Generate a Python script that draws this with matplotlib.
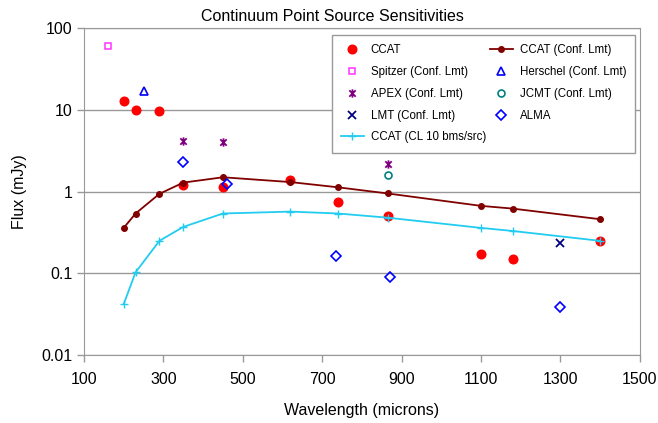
import numpy as np
import matplotlib
matplotlib.use("Agg")
import matplotlib.pyplot as plt
from matplotlib.path import Path

plt.rcParams['font.family'] = ['Liberation Sans', 'DejaVu Sans']

# DATA (wavelength in microns, flux in mJy)

ccat_wl = [200, 230, 290, 350, 450, 620, 740, 865, 1100, 1180, 1400]
ccat_flux = [12.9, 10.0, 9.8, 1.21, 1.15, 1.39, 0.75, 0.50, 0.174, 0.15, 0.25]

conf_wl = [200, 230, 290, 350, 450, 620, 740, 865, 1100, 1180, 1400]
conf_flux = [0.36, 0.54, 0.94, 1.29, 1.50, 1.31, 1.13, 0.95, 0.67, 0.62, 0.46]

cl10_wl = [200, 230, 290, 350, 450, 620, 740, 865, 1100, 1180, 1400]
cl10_flux = [0.042, 0.103, 0.25, 0.37, 0.54, 0.57, 0.54, 0.48, 0.36, 0.33, 0.25]

spitzer_wl = [160]
spitzer_flux = [61]
herschel_wl = [250]
herschel_flux = [17]
apex_wl = [350, 450, 865]
apex_flux = [4.2, 4.1, 2.16]
jcmt_wl = [865]
jcmt_flux = [1.61]
lmt_wl = [1300]
lmt_flux = [0.238]
alma_wl = [350, 460, 735, 870, 1300]
alma_flux = [2.31, 1.23, 0.162, 0.090, 0.039]

# asterisk marker like the excel one: x with a vertical bar
star = Path([(-1, -1), (1, 1), (-1, 1), (1, -1), (0, -1.3), (0, 1.3)],
            [Path.MOVETO, Path.LINETO, Path.MOVETO, Path.LINETO, Path.MOVETO, Path.LINETO])

# PLOT

fig = plt.figure(figsize=(6.58, 4.23), dpi=100)
ax = fig.add_axes([84 / 658, 1 - 355 / 423, 555.7 / 658, 326.7 / 423])

h_ccat, = ax.plot(ccat_wl, ccat_flux, 'o', color='#ff0000', ms=6.2, ls='none', label='CCAT')
h_spitzer, = ax.plot(spitzer_wl, spitzer_flux, 's', mfc='none', mec='#ff33ff', mew=1.1, ms=5, ls='none',
                     label='Spitzer (Conf. Lmt)')
h_apex, = ax.plot(apex_wl, apex_flux, marker=star, color='#800080', mew=1.3, ms=6, ls='none',
                  label='APEX (Conf. Lmt)')
h_lmt, = ax.plot(lmt_wl, lmt_flux, 'x', color='#000080', mew=1.3, ms=6, ls='none', label='LMT (Conf. Lmt)')
h_cl10, = ax.plot(cl10_wl, cl10_flux, '-', marker='+', color='#22ccf0', lw=1.3, ms=6, mew=1,
                  label='CCAT (CL 10 bms/src)')
h_conf, = ax.plot(conf_wl, conf_flux, '-', marker='o', color='#800000', lw=1.3, ms=4,
                  label='CCAT (Conf. Lmt)')
h_herschel, = ax.plot(herschel_wl, herschel_flux, '^', mfc='none', mec='#0000ff', mew=1.2, ms=5.5, ls='none',
                      label='Herschel (Conf. Lmt)')
h_jcmt, = ax.plot(jcmt_wl, jcmt_flux, 'o', mfc='none', mec='#008080', mew=1.2, ms=5, ls='none',
                  label='JCMT (Conf. Lmt)')
h_alma, = ax.plot(alma_wl, alma_flux, 'D', mfc='none', mec='#0000ff', mew=1.2, ms=5, ls='none', label='ALMA')

ax.set_yscale('log')
ax.set_xlim(100, 1500)
ax.set_ylim(0.01, 100)
ax.set_xticks(range(100, 1501, 200))
ax.set_yticks([0.01, 0.1, 1, 10, 100])
ax.set_yticklabels(['0.01', '0.1', '1', '10', '100'])
ax.minorticks_off()
ax.yaxis.grid(True, color='#999999', lw=1)
ax.set_axisbelow(True)
for s in ax.spines.values():
    s.set_color('#999999')
ax.tick_params(colors='#999999', labelcolor='black', labelsize=11.5, length=5, width=1)
ax.tick_params(axis='x', pad=7)

ax.set_xlabel('Wavelength (microns)', fontsize=11.5, labelpad=12)
ax.set_ylabel('Flux (mJy)', fontsize=11.5, labelpad=10)
fig.suptitle('Continuum Point Source Sensitivities', fontsize=11.5, x=0.505, y=0.978)

handles = [h_ccat, h_spitzer, h_apex, h_lmt, h_cl10, h_conf, h_herschel, h_jcmt, h_alma]
leg = ax.legend(handles=handles, ncol=2, loc='upper right', bbox_to_anchor=(0.992, 0.9795),
                borderaxespad=0, fontsize=8.3, frameon=True, fancybox=False, edgecolor='#999999',
                framealpha=1, handlelength=2.0, handletextpad=0.6, columnspacing=0.3,
                labelspacing=0.85, borderpad=0.8)
leg.get_frame().set_linewidth(1)

fig.savefig('out.png', dpi=100)
